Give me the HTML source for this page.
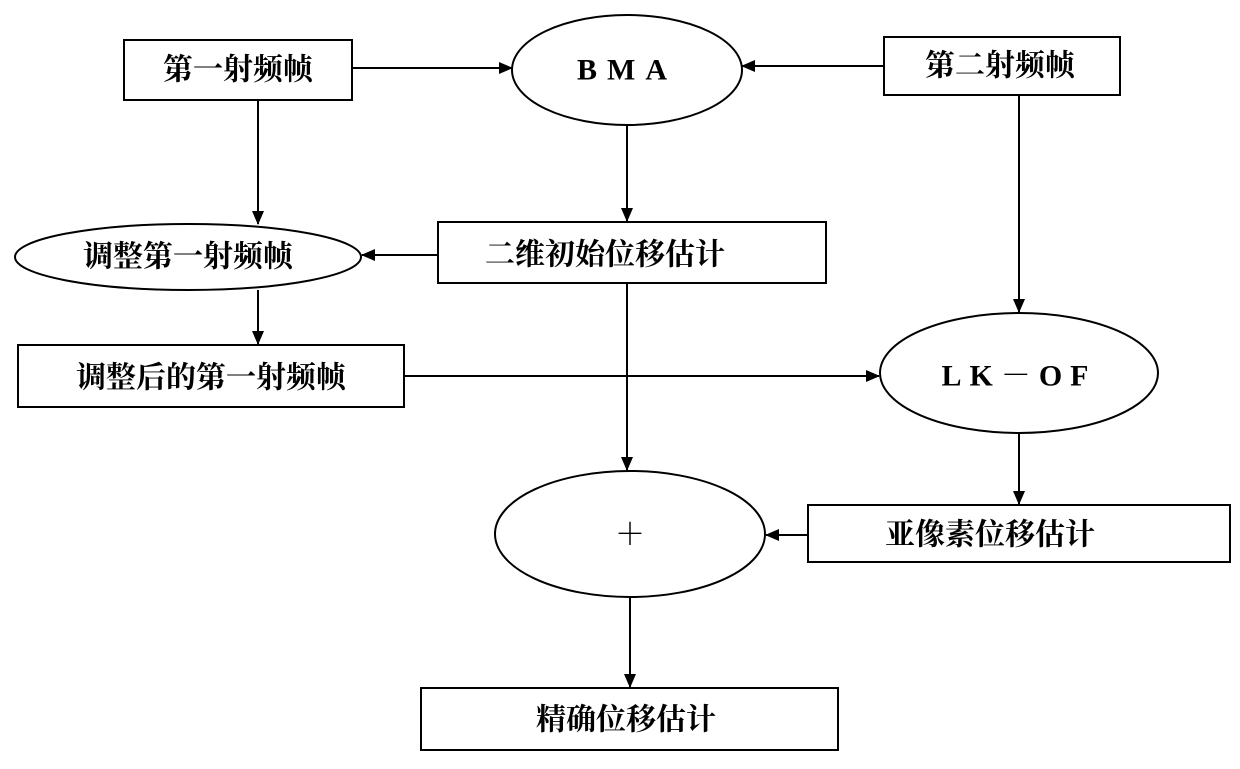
<!DOCTYPE html>
<html><head><meta charset="utf-8"><style>
html,body{margin:0;padding:0;background:#fff;}
svg text{font-family:"Liberation Serif","Noto Serif CJK SC",serif;font-size:30px;font-weight:bold;fill:#000;}
</style></head><body>
<svg width="1240" height="764" viewBox="0 0 1240 764" xmlns="http://www.w3.org/2000/svg">
<defs><marker id="a" markerWidth="14" markerHeight="12" refX="13" refY="6" orient="auto" markerUnits="userSpaceOnUse"><path d="M0,0 L14,6 L0,12 z" fill="#000"/></marker></defs>
<g fill="none" stroke="#000" stroke-width="2">
<rect x="124" y="40" width="228" height="60"/>
<ellipse cx="627" cy="70" rx="115" ry="55"/>
<rect x="884" y="37" width="236" height="58"/>
<ellipse cx="188" cy="257" rx="173" ry="33"/>
<rect x="438" y="222" width="388" height="61"/>
<rect x="18" y="345" width="386" height="62"/>
<ellipse cx="1019" cy="373" rx="139" ry="60"/>
<ellipse cx="630" cy="534" rx="135" ry="63"/>
<rect x="808" y="505" width="422" height="57"/>
<rect x="421" y="688" width="417" height="62"/>
</g>
<g stroke="#000" stroke-width="2" marker-end="url(#a)">
<line x1="352" y1="68" x2="512" y2="68"/>
<line x1="884" y1="66" x2="742" y2="66"/>
<line x1="258" y1="100" x2="258" y2="224"/>
<line x1="627" y1="125" x2="627" y2="221"/>
<line x1="1019" y1="95" x2="1019" y2="312"/>
<line x1="438" y1="255" x2="362" y2="255"/>
<line x1="258" y1="290" x2="258" y2="344"/>
<line x1="404" y1="376" x2="879" y2="376"/>
<line x1="627" y1="283" x2="627" y2="470"/>
<line x1="1019" y1="433" x2="1019" y2="504"/>
<line x1="808" y1="535" x2="766" y2="535"/>
<line x1="630" y1="597" x2="630" y2="687"/>
</g>
<g text-anchor="middle" dominant-baseline="central">
<text x="238" y="70">第一射频帧</text>
<text x="627" y="70" letter-spacing="10">BMA</text>
<text x="1000" y="66">第二射频帧</text>
<text x="188" y="257">调整第一射频帧</text>
<text x="605" y="255">二维初始位移估计</text>
<text x="211" y="378">调整后的第一射频帧</text>
<text x="1019" y="376" letter-spacing="8">LK－OF</text>
<text x="630" y="535">＋</text>
<text x="990" y="535">亚像素位移估计</text>
<text x="626" y="720">精确位移估计</text>
</g>
</svg>
</body></html>
